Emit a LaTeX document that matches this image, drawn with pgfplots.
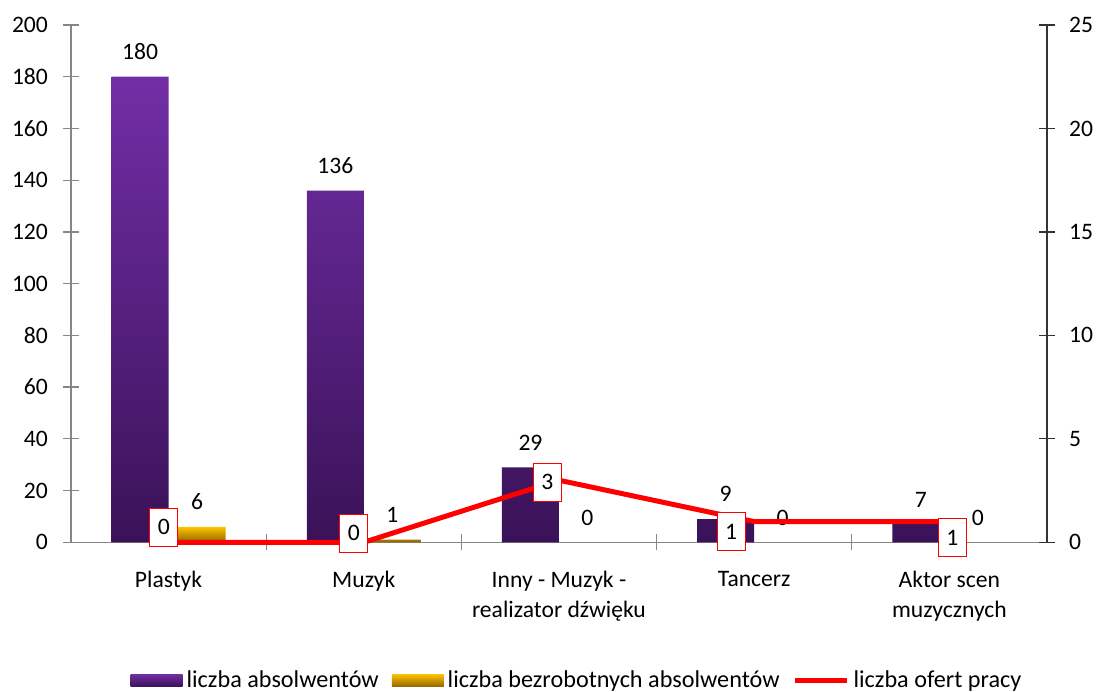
\documentclass[border=0pt]{standalone}
\usepackage{pgfplots}
\pgfplotsset{compat=1.18}
\usepackage{fontspec}
\setmainfont{Carlito}

\definecolor{purpTop}{RGB}{114,46,166}
\definecolor{purpBot}{RGB}{58,18,88}
\definecolor{goldTop}{RGB}{255,196,0}
\definecolor{goldBot}{RGB}{145,100,0}
\definecolor{axgray}{RGB}{134,134,134}

% bars: left axis
\pgfplotstableread{
x absolwenci bezrobotni
0 180 6
1 136 1
2 29  0
3 9   0
4 7   0
}\bars

% line: right axis, with label offsets (bp)
\pgfplotstableread{
x oferty dx dy
0 0 -2.3  7.5
1 0 -5    4.5
2 3 -5.75 -1
3 1 -11.5 -5
4 1  1.5  -8
}\oferty

\pgfplotsset{
  /pgf/number format/assume math mode=true,
  common/.style={
    width=488bp, height=258.65bp, scale only axis,
    xmin=-0.5, xmax=4.5,
    clip=false,
  },
}

\begin{document}
\begin{tikzpicture}[font=\fontsize{11.8bp}{15bp}\selectfont]

\begin{axis}[
  common,
  ymin=0, ymax=200,
  ytick={0,20,...,200},
  axis x line*=bottom, axis y line*=left,
  axis line style={axgray, line width=0.6bp},
  tick align=center,
  major tick length=8bp, minor tick length=8bp,
  major tick style={axgray, line width=0.6bp},
  major x tick style={draw=none},
  minor x tick style={axgray, line width=0.6bp},
  xtick={0,...,4},
  minor xtick={0.5,1.5,2.5,3.5},
  xticklabels={Plastyk, Muzyk, {Inny - Muzyk -\\realizator dźwięku}, Tancerz, {Aktor scen\\muzycznych}},
  xticklabel style={align=center, yshift=-7bp},
  yticklabel style={xshift=-4bp},
]
\addplot[ybar, bar width=0.292, bar shift=-0.146, draw=none,
  top color=purpTop, bottom color=purpBot,
  nodes near coords, nodes near coords style={black, xshift=-14.25bp, yshift=5bp}]
  table[x=x, y=absolwenci] {\bars};
% shaded gold bars (zero-height ones skipped)
\addplot[ybar, bar width=0.292, bar shift=0.146, draw=none,
  top color=goldTop, bottom color=goldBot,
  y filter/.expression={y==0 ? nan : y}]
  table[x=x, y=bezrobotni] {\bars};
% gold bar labels, all values
\addplot[ybar, bar width=0.292, bar shift=0.146, draw=none, fill=none,
  nodes near coords, nodes near coords style={black, xshift=14.25bp, yshift=5bp}]
  table[x=x, y=bezrobotni] {\bars};
\end{axis}

\begin{axis}[
  common,
  ymin=0, ymax=25,
  ytick={0,5,...,25},
  axis x line=none, axis y line*=right,
  axis line style={black!80, line width=0.6bp},
  tick align=center,
  major tick length=8bp,
  major tick style={black!80, line width=0.6bp},
  yticklabel style={xshift=3.5bp},
  legend columns=3,
  legend style={draw=none, fill=none, at={(rel axis cs:0.5195,-0.267)}, anchor=center,
    font=\fontsize{12.1bp}{15bp}\selectfont,
    /tikz/every even column/.append style={column sep=4.5bp}},
]
\addlegendimage{legend image code/.code={\path[draw=none, top color=purpTop, bottom color=purpBot] (0bp,-3.2bp) rectangle (26bp,3.2bp);}}
\addlegendentry{liczba absolwentów}
\addlegendimage{legend image code/.code={\path[draw=none, top color=goldTop, bottom color=goldBot] (0bp,-3.2bp) rectangle (26bp,3.2bp);}}
\addlegendentry{liczba bezrobotnych absolwentów}
\addlegendimage{legend image code/.code={\draw[red, line width=2.5bp] (0bp,0bp) -- (26bp,0bp);}}
\addlegendentry{liczba ofert pracy}

\addplot[red, line width=2.5bp, mark=none, forget plot,
  visualization depends on={\thisrow{dx}\as\dx},
  visualization depends on={\thisrow{dy}\as\dy},
  nodes near coords,
  nodes near coords style={anchor=center, draw=red, line width=0.5bp, fill=white,
    text=black, minimum width=14bp, minimum height=19bp, inner sep=1bp,
    xshift=\dx bp, yshift=\dy bp},
] table[x=x, y=oferty] {\oferty};

\coordinate (bl) at (rel axis cs:-0.0727,-0.2875);
\coordinate (tr) at (rel axis cs:1.0533,1.0483);
\end{axis}

\pgfresetboundingbox
\path (bl) rectangle (tr);
\end{tikzpicture}
\end{document}
